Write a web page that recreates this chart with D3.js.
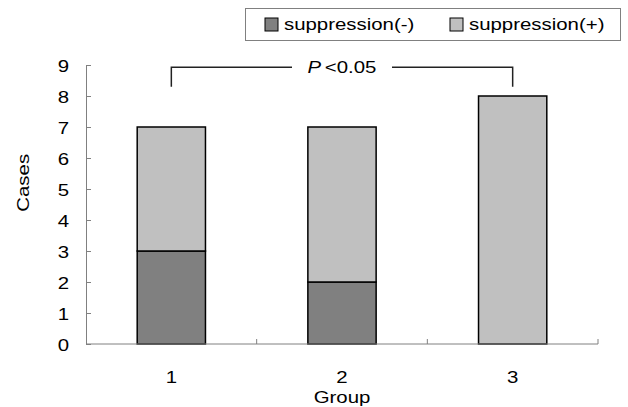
<!DOCTYPE html>
<html>
<head>
<meta charset="utf-8">
<script src="https://cdn.jsdelivr.net/npm/d3@7"></script>
<style>
  body { margin: 0; background: #fff; }
  text { font-family: Arial, "Liberation Sans", sans-serif; }
</style>
</head>
<body>
<div id="chart"></div>
<script>
// values
var groups = ["1", "2", "3"];
var suppNeg = [3, 2, 0];
var suppPos = [4, 5, 8];
var yTicks = [0, 1, 2, 3, 4, 5, 6, 7, 8, 9];
var seriesNames = ["suppression(-)", "suppression(+)"];
var seriesColors = ["#808080", "#c0c0c0"];

var width = 628, height = 407;
var margin = {top: 65, right: 30, bottom: 63, left: 86};
var fs = "17px", sx = 1.2; // text in the original is drawn wide

var svg = d3.select("#chart").append("svg")
    .attr("width", width)
    .attr("height", height);

// put a widened label at (x, y)
function label(x, y, str, anchor, rot) {
    var g = svg.append("g")
        .attr("transform", "translate(" + x + "," + y + ")" + (rot ? " rotate(" + rot + ")" : "") + " scale(" + sx + ",1)");
    return g.append("text")
        .attr("text-anchor", anchor || "start")
        .attr("font-size", fs)
        .text(str);
}

var x = d3.scaleBand()
    .domain(groups)
    .range([margin.left, width - margin.right])
    .paddingInner(0.6)
    .paddingOuter(0.3);

var y = d3.scaleLinear()
    .domain([0, 9])
    .range([height - margin.bottom, margin.top]);

var rows = groups.map(function(g, i) { return {group: g, neg: suppNeg[i], pos: suppPos[i]}; });
var stack = d3.stack().keys(["neg", "pos"])(rows);

// bars
svg.append("g").selectAll("g")
    .data(stack)
    .enter().append("g")
    .attr("fill", function(d, i) { return seriesColors[i]; })
    .selectAll("rect")
    .data(function(d) { return d; })
    .enter().filter(function(d) { return d[1] > d[0]; })
    .append("rect")
    .attr("x", function(d) { return x(d.data.group); })
    .attr("y", function(d) { return y(d[1]); })
    .attr("width", x.bandwidth())
    .attr("height", function(d) { return y(d[0]) - y(d[1]); })
    .attr("stroke", "#000")
    .attr("stroke-width", 1.5);

// y axis
var yAxis = svg.append("g")
    .attr("transform", "translate(" + margin.left + ",0)")
    .call(d3.axisLeft(y).tickValues(yTicks).tickSize(-5).tickPadding(0).tickSizeOuter(0));
yAxis.select(".domain").attr("stroke", "#808080");
yAxis.selectAll(".tick line").attr("stroke", "#808080");
yAxis.selectAll("text")
    .attr("font-size", fs).attr("fill", "#000")
    .attr("font-family", "Arial, 'Liberation Sans', sans-serif")
    .attr("x", -17 / sx)
    .attr("dy", "0.36em")
    .attr("transform", "scale(" + sx + ",1)");

// x axis: ticks sit on the band boundaries
var bounds = groups.map(function(g) { return x(g) + x.bandwidth() / 2 + x.step() / 2; });
var xAxisG = svg.append("g")
    .attr("transform", "translate(0," + y(0) + ")");
xAxisG.append("line")
    .attr("x1", margin.left).attr("x2", width - margin.right)
    .attr("stroke", "#808080");
xAxisG.selectAll("line.tk")
    .data(bounds)
    .enter().append("line")
    .attr("class", "tk")
    .attr("x1", function(d) { return d; }).attr("x2", function(d) { return d; })
    .attr("y1", 0).attr("y2", -5)
    .attr("stroke", "#808080");
groups.forEach(function(g) {
    label(x(g) + x.bandwidth() / 2, y(0) + 39, g, "middle");
});

// axis titles
label(x("2") + x.bandwidth() / 2, 403, "Group", "middle");
label(29, y(5.2), "Cases", "middle", -90);

// significance bracket between group 1 and group 3
var bx1 = x("1") + x.bandwidth() / 2, bx2 = x("3") + x.bandwidth() / 2;
var bTop = y(8.93), bBot = y(8.3);
var mid = (bx1 + bx2) / 2;
var bracket = svg.append("g").attr("fill", "none").attr("stroke", "#222").attr("stroke-width", 1.5);
bracket.append("path").attr("d", "M" + bx1 + "," + bBot + "V" + bTop + "H" + (mid - 50));
bracket.append("path").attr("d", "M" + (mid + 50) + "," + bTop + "H" + bx2 + "V" + bBot);
var pt = label(mid, bTop + 6, "", "middle");
pt.append("tspan").attr("font-style", "italic").text("P");
pt.append("tspan").attr("dx", 3).text("<0.05");

// legend
svg.append("rect")
    .attr("x", 245.5).attr("y", 8.5)
    .attr("width", 375).attr("height", 32)
    .attr("fill", "#fff").attr("stroke", "#808080");
var legX = [265, 450];
seriesNames.forEach(function(name, i) {
    svg.append("rect")
        .attr("x", legX[i]).attr("y", 18)
        .attr("width", 13).attr("height", 13)
        .attr("fill", seriesColors[i])
        .attr("stroke", "#000").attr("stroke-width", 1);
    label(legX[i] + 19, 30, name);
});
</script>
</body>
</html>
